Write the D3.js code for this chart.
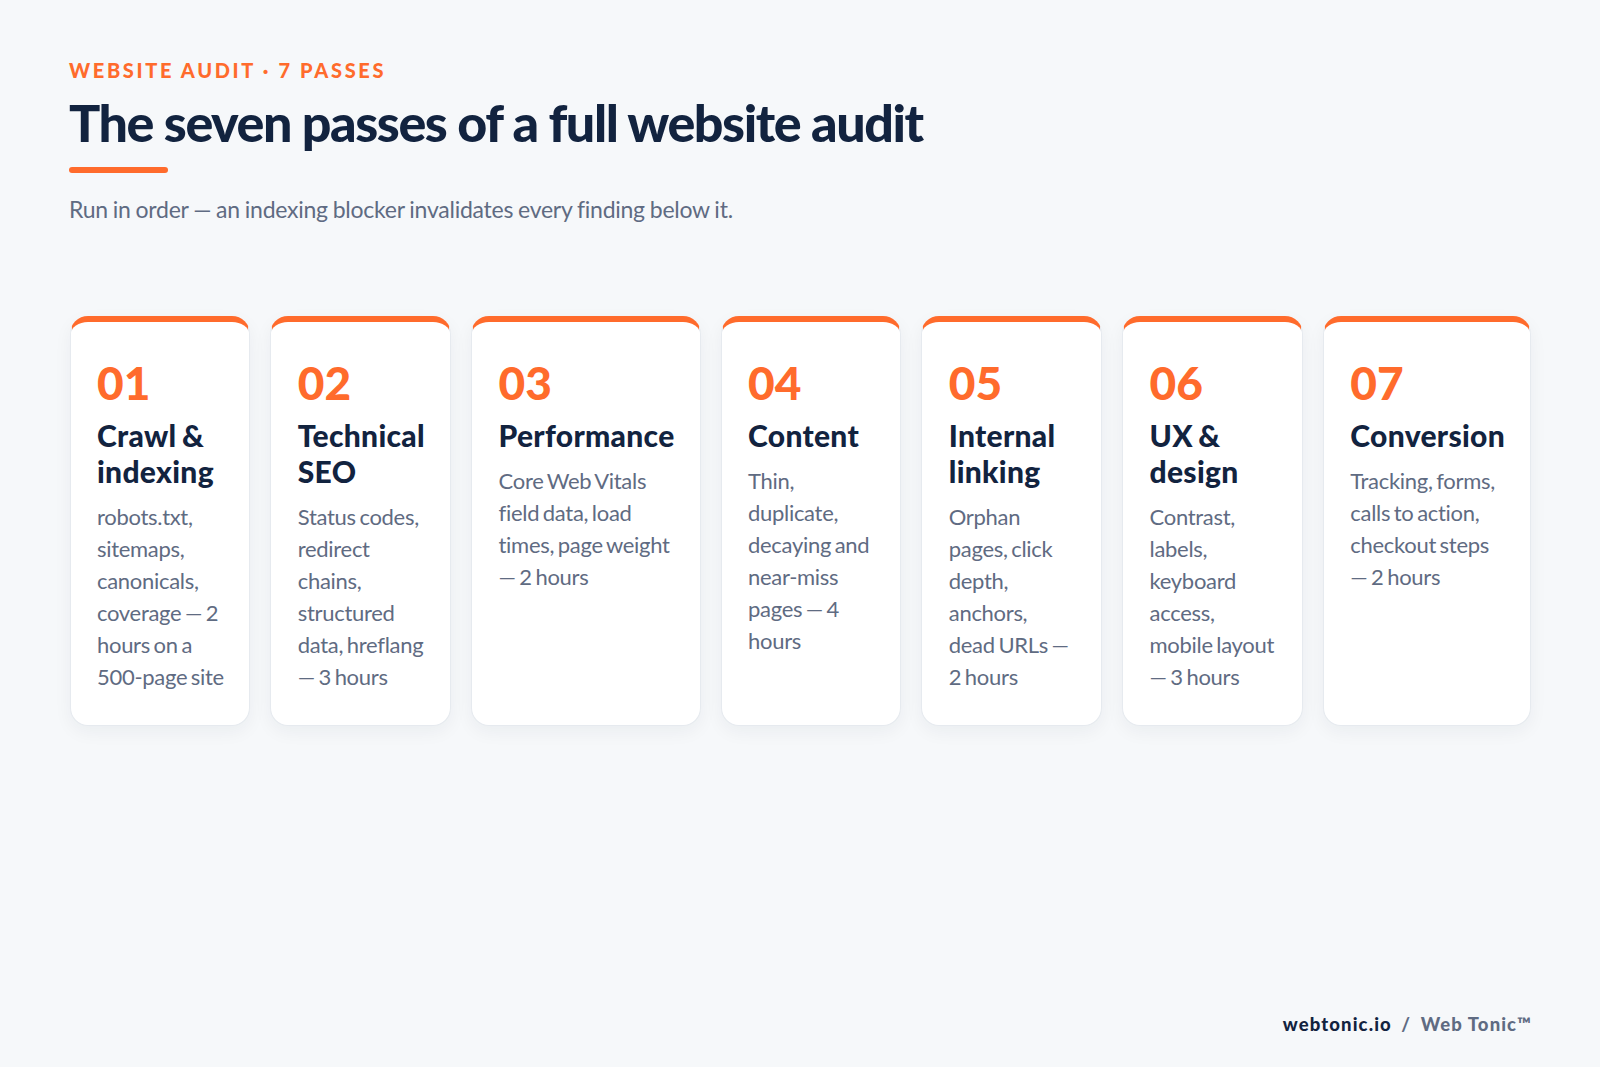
<!DOCTYPE html>
<html>
<head>
<meta charset="utf-8">
<script src="https://cdn.jsdelivr.net/npm/d3@7"></script>
<style>
  html, body { margin: 0; padding: 0; }
  body { width: 1600px; height: 1067px; background: #f6f8fa; font-family: Lato, sans-serif; position: relative; overflow: hidden; }
  .eyebrow { position: absolute; left: 69px; top: 57px; font-size: 20px; line-height: 27px; font-weight: 900; letter-spacing: 2.65px; color: #ff6b2c; white-space: nowrap; }
  .title { position: absolute; left: 69px; top: 89px; font-size: 52px; line-height: 66px; font-weight: 900; letter-spacing: -1.45px; color: #12233f; white-space: nowrap; }
  .rule { position: absolute; left: 69px; top: 167px; width: 99px; height: 6px; border-radius: 3px; background: #ff6b2c; }
  .sub { position: absolute; left: 69px; top: 194px; font-size: 23px; line-height: 30px; letter-spacing: -0.25px; word-spacing: -0.7px; color: #5f6b82; white-space: nowrap; }
  .cards { position: absolute; left: 69.5px; top: 316px; width: 1461.5px; height: 410px; display: grid; grid-template-columns: repeat(7, 1fr); grid-template-rows: 410px; gap: 20px; }
  .card { box-sizing: border-box; background: #fff; border: 1px solid #e6eaef; border-top: 6px solid #ff6b2c; border-radius: 18px; padding: 33px 25px 0 26.5px; box-shadow: 0 6px 18px rgba(18, 35, 63, 0.05); }
  .num { font-size: 46px; line-height: 56px; font-weight: 900; color: #ff6b2c; }
  .name { font-size: 30px; line-height: 36px; font-weight: 900; letter-spacing: 0.3px; word-spacing: -2px; color: #12233f; margin-top: 6px; }
  .desc { font-size: 22px; line-height: 32px; letter-spacing: -0.3px; word-spacing: -1.7px; color: #5f6b82; margin-top: 12px; }
  .footer { position: absolute; right: 68px; top: 1011px; font-size: 18.5px; line-height: 26px; font-weight: 900; letter-spacing: 1.1px; color: #5f6b82; white-space: nowrap; }
  .footer b { color: #12233f; font-weight: 900; }
  .footer i { font-style: normal; margin: 0 4px; }
</style>
</head>
<body>
<script>
var eyebrow = 'WEBSITE AUDIT · 7 PASSES'
var title = 'The seven passes of a full website audit'
var subtitle = 'Run in order — an indexing blocker invalidates every finding below it.'
var passNumbers = ['01', '02', '03', '04', '05', '06', '07']
var passNames = ['Crawl & indexing', 'Technical SEO', 'Performance', 'Content', 'Internal linking', 'UX & design', 'Conversion']
var passDescriptions = [
  'robots.txt, sitemaps, canonicals, coverage — 2 hours on a 500-page site',
  'Status codes, redirect chains, structured data, hreflang — 3 hours',
  'Core Web Vitals field data, load times, page weight — 2 hours',
  'Thin, duplicate, decaying and near-miss pages — 4 hours',
  'Orphan pages, click depth, anchors, dead URLs — 2 hours',
  'Contrast, labels, keyboard access, mobile layout — 3 hours',
  'Tracking, forms, calls to action, checkout steps — 2 hours'
]
var footerSite = 'webtonic.io'
var footerBrand = 'Web Tonic™'

var body = d3.select('body')
body.append('div').attr('class', 'eyebrow').text(eyebrow)
body.append('div').attr('class', 'title').text(title)
body.append('div').attr('class', 'rule')
body.append('div').attr('class', 'sub').text(subtitle)

var cards = body
  .append('div')
  .attr('class', 'cards')
  .selectAll('.card')
  .data(passNumbers)
  .enter()
  .append('div')
  .attr('class', 'card')
cards.append('div').attr('class', 'num').text(function(d) { return d })
cards.append('div').attr('class', 'name').text(function(d, i) { return passNames[i] })
cards.append('div').attr('class', 'desc').text(function(d, i) { return passDescriptions[i] })

var footer = body.append('div').attr('class', 'footer')
footer.append('b').text(footerSite)
footer.append('i').text(' / ')
footer.append('span').text(footerBrand)
</script>
</body>
</html>
